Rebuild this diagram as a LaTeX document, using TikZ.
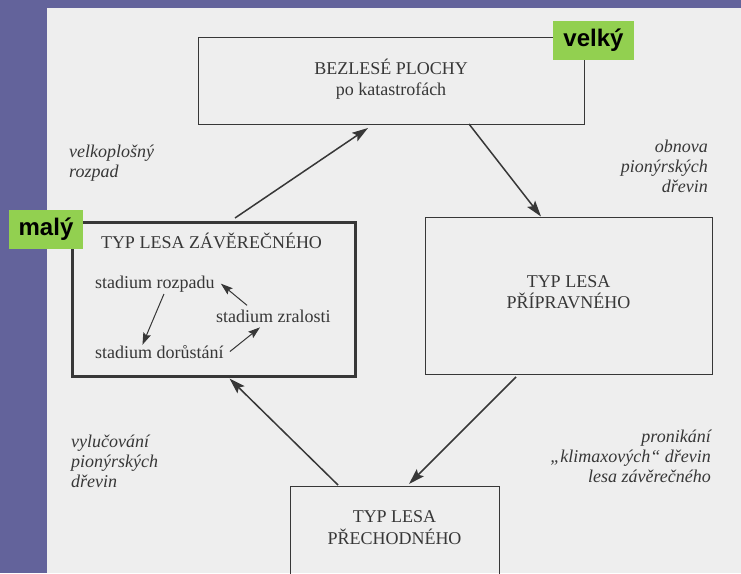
\documentclass[tikz,border=0pt]{standalone}
\usepackage{fontspec}
\setmainfont{Liberation Serif}
\newfontfamily\tagfont{Liberation Sans}
\usetikzlibrary{arrows.meta}

\definecolor{frame}{RGB}{99, 99, 155}
\definecolor{paper}{RGB}{238, 238, 238}
\definecolor{ink}{RGB}{55, 55, 55}
\definecolor{tag}{RGB}{146, 208, 80}

\tikzset{
	box/.style = {draw = ink, line width = 1pt, align = center, inner sep = 0pt},
	note/.style = {font = \fontsize{18}{20}\selectfont\itshape, inner sep = 0pt},
	stage/.style = {inner sep = 0pt},
	tagbox/.style = {fill = tag, text = black, inner sep = 0pt, font = \tagfont\bfseries\fontsize{24}{26}\selectfont},
	flow/.style = {draw = ink, line width = 1.5pt, -{Stealth[length = 16pt, width = 10pt, inset = 3pt]}},
	turn/.style = {draw = ink, line width = 1pt, -{Stealth[length = 12pt, width = 8pt, inset = 2pt]}}
}

\begin{document}
\begin{tikzpicture}[x = 1pt, y = -1pt, font = \fontsize{18}{21}\selectfont, text = ink]
	\useasboundingbox (0, 0) rectangle (741, 573);
	\fill[frame] (0, 0) rectangle (741, 573);
	\fill[paper] (47, 8) rectangle (741, 573);
	\clip (0, 0) rectangle (741, 573);

	\node[box, minimum width = 386, minimum height = 87, text depth = 8pt] (bez) at (391, 81) {BEZLESÉ PLOCHY\\po katastrofách};
	\node[box, minimum width = 287, minimum height = 157, text depth = 6pt] (pri) at (568.5, 295.5) {TYP LESA\\PŘÍPRAVNÉHO};
	\node[box, minimum width = 209, minimum height = 100, text depth = 16pt, font = \fontsize{18}{22}\selectfont] (pre) at (394.5, 536) {TYP LESA\\PŘECHODNÉHO};
	\node[box, line width = 3pt, minimum width = 283, minimum height = 154] (zav) at (213.5, 299) {};
	\node[anchor = base] (zavt) at (211.5, 248) {TYP LESA ZÁVĚREČNÉHO};

	\node[stage, anchor = base west] (roz) at (95, 288) {stadium rozpadu};
	\node[stage, anchor = base west] (zra) at (216, 322) {stadium zralosti};
	\node[stage, anchor = base west] (dor) at (95, 358) {stadium dorůstání};

	\draw[turn] ([xshift = 9pt, yshift = -2pt]roz.south) -- ([xshift = -17pt]dor.north);
	\draw[turn] ([xshift = 6pt]dor.east) -- ([xshift = 44pt, yshift = -5pt]zra.south west);
	\draw[turn] ([xshift = 31pt, yshift = 4pt]zra.north west) -- ([xshift = 6pt]roz.east);

	\draw[flow] ([xshift = 21.5pt, yshift = 2.5pt]zav.north) -- ([xshift = -23pt, yshift = -3pt]bez.south);
	\draw[flow] ([xshift = 78pt, yshift = 1pt]bez.south) -- ([xshift = -27.5pt]pri.north);
	\draw[flow] ([xshift = -52.5pt, yshift = -2.5pt]pri.south) -- ([xshift = 14.5pt, yshift = 1.5pt]pre.north);
	\draw[flow] ([xshift = -56.5pt, yshift = 0.5pt]pre.north) -- ([xshift = 16pt, yshift = -1pt]zav.south);

	\node[note, anchor = north west, align = left] (vel) at (69, 145) {velkoplošný\\rozpad};
	\node[note, anchor = north east, align = right] (obn) at (708, 140) {obnova\\pionýrských\\dřevin};
	\node[note, anchor = north west, align = left] (vyl) at (71, 435) {vylučování\\pionýrských\\dřevin};
	\node[note, anchor = north east, align = right] (pro) at (711, 430) {pronikání\\„klimaxových“ dřevin\\lesa závěrečného};

	\node[tagbox, minimum width = 81, minimum height = 39] (big) at (593.5, 40.5) {velký};
	\node[tagbox, minimum width = 74, minimum height = 39] (small) at (46, 229.5) {malý};
\end{tikzpicture}
\end{document}
